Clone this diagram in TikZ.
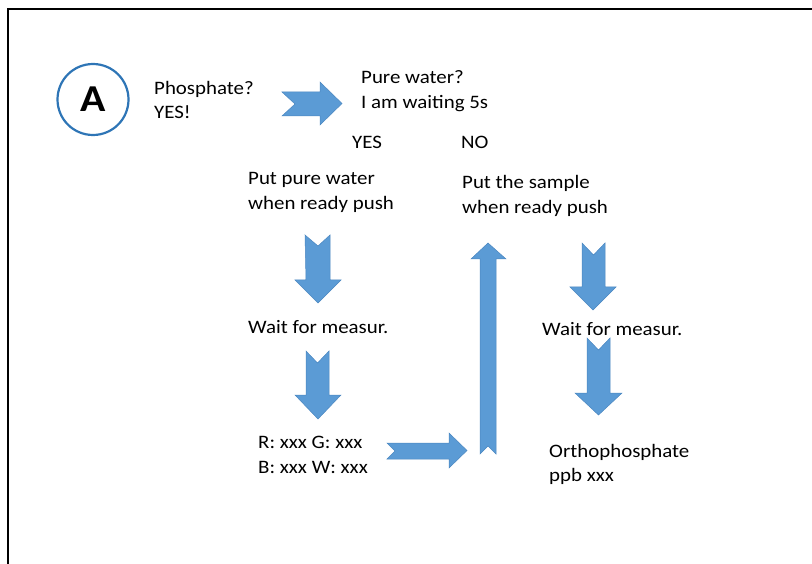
\documentclass[tikz,border=0pt]{standalone}
\usepackage{fontspec}
\setmainfont{Carlito}[FakeStretch=1.1]
\definecolor{arrowblue}{HTML}{5B9BD5}
\definecolor{arrowedge}{HTML}{4A86C0}
\definecolor{ringblue}{HTML}{2E75B6}
\tikzset{
  txt/.style={anchor=base west, inner sep=0pt, align=left, font=\fontsize{19}{24.5}\selectfont},
  blockarrow/.style={fill=arrowblue, draw=arrowedge, line width=0.5pt, line join=miter},
  frame/.style={draw=black, line width=2pt},
  ring/.style={circle, draw=ringblue, line width=2.2pt, minimum size=71pt, inner sep=0pt,
    font=\fontsize{38}{40}\selectfont\bfseries}
}
\begin{document}
\begin{tikzpicture}[x=1pt, y=-1pt]
\useasboundingbox (0,0) rectangle (812,564);
% frame
\draw[frame] (8,565) -- (8,9) -- (813,9);
% badge
\node[ring] (badge) at (93,99.5) {A};
% texts (two-line nodes are anchored at the baseline of their last line)
\node[txt] (phos) at (154,119) {Phosphate?\\YES!};
\node[txt] (pure) at (361,108.5) {Pure water?\\I am waiting 5s};
\node[txt] (yes) at (352,149) {YES};
\node[txt] (no) at (461,149) {NO};
\node[txt] (putwater) at (248,209.5) {Put pure water\\when ready push};
\node[txt] (putsample) at (462,213.5) {Put the sample\\when ready push};
\node[txt] (waitL) at (248,334) {Wait for measur.};
\node[txt] (waitR) at (542,336) {Wait for measur.};
\node[txt] (rgbw) at (258,473) {R: xxx G: xxx\\B: xxx W: xxx};
\node[txt] (ortho) at (549,481.5) {Orthophosphate\\ppb xxx};
% block arrows
% right arrow 1
\draw[blockarrow] (282,92) -- (320,92) -- (320,82) -- (342,103.5) -- (320,125) -- (320,116) -- (282,116) -- (295,104) -- cycle;
% down arrow 1
\draw[blockarrow] (305,235) -- (318,246) -- (330,235) -- (330,280) -- (341,280) -- (318,303) -- (295,280) -- (306,280) -- cycle;
% down arrow 2
\draw[blockarrow] (306,351) -- (317.5,363) -- (329,351) -- (329,395) -- (341,395) -- (318,419) -- (295,395) -- (306,395) -- cycle;
% down arrow 3
\draw[blockarrow] (582,243) -- (593.5,255) -- (605,243) -- (605,287) -- (616,287) -- (593,310) -- (570,287) -- (582,287) -- cycle;
% down arrow 4
\draw[blockarrow] (587,338) -- (598.5,350) -- (610,338) -- (610,393) -- (622,393) -- (598.5,415) -- (575,393) -- (587,393) -- cycle;
% up arrow
\draw[blockarrow] (480,454) -- (480,259) -- (471,259) -- (488,243) -- (506,259) -- (496,259) -- (496,454) -- (488,446) -- cycle;
% right arrow 2
\draw[blockarrow] (387,443) -- (449,443) -- (449,433) -- (467,450.5) -- (449,468) -- (449,459) -- (387,459) -- (395,451) -- cycle;
\end{tikzpicture}
\end{document}
